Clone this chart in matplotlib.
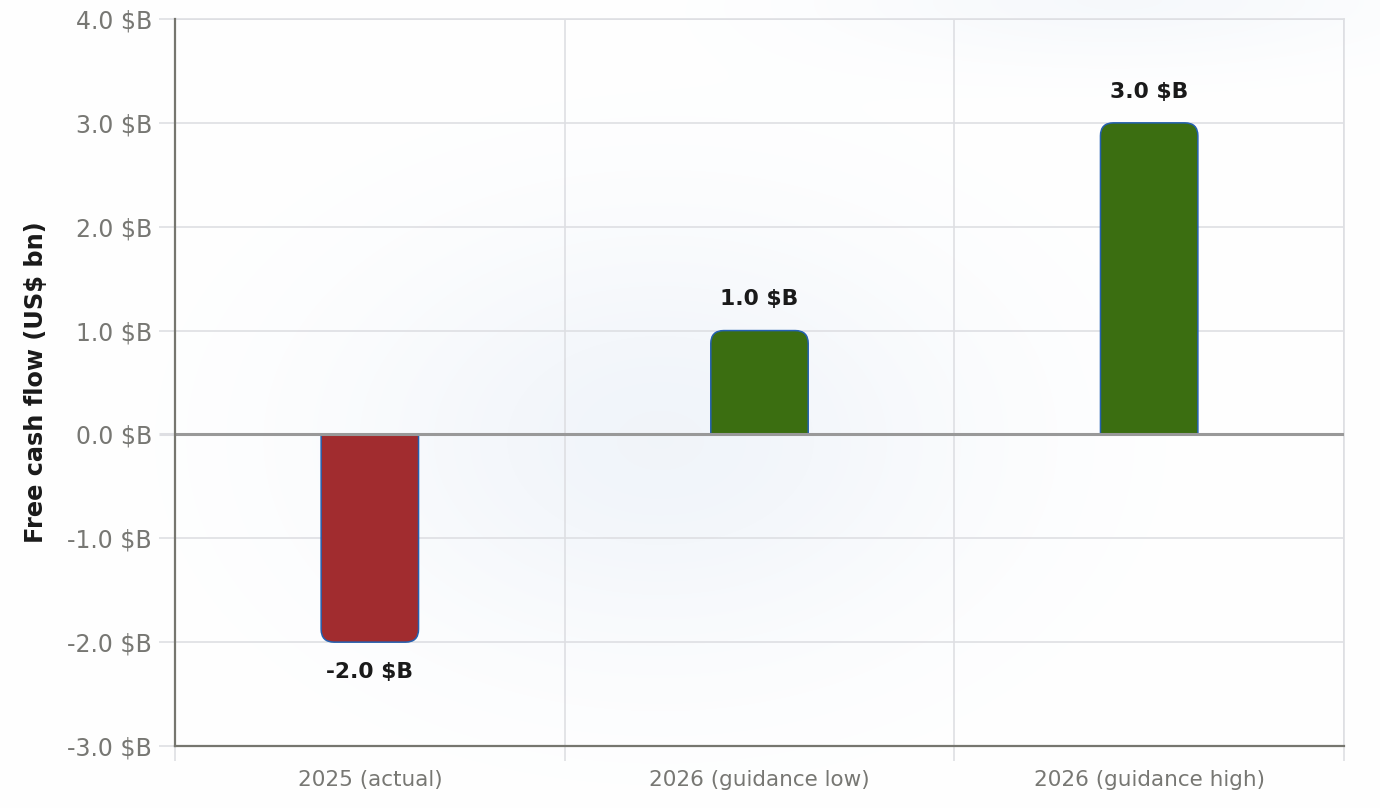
import numpy as np
import matplotlib

matplotlib.use("Agg")

import matplotlib.pyplot as plt
from matplotlib.path import Path
from matplotlib.patches import PathPatch
from matplotlib.ticker import FuncFormatter, MultipleLocator, FixedLocator

categories = ["2025 (actual)", "2026 (guidance low)", "2026 (guidance high)"]
fcf_bn = [-2.0, 1.0, 3.0]
y_ticks = [-3, -2, -1, 0, 1, 2, 3, 4]

NEG_COLOR = "#a12c2f"
POS_COLOR = "#3b6e11"
EDGE_COLOR = "#2460b0"
GRID_COLOR = "#dedfe3"
TICK_TEXT = "#777773"
SPINE_COLOR = "#76766f"

W, H, DPI = 1380, 808, 100
fig = plt.figure(figsize=(W / DPI, H / DPI), dpi=DPI)

# faint radial glows behind everything
bg = fig.add_axes([0, 0, 1, 1], zorder=0)
bg.set_axis_off()
yy, xx = np.mgrid[0:H, 0:W]
g1 = np.exp(-0.5 * (((xx - 660) / 220.0) ** 2 + ((yy - 440) / 150.0) ** 2))
g2 = np.exp(-0.5 * (((xx - 1120) / 200.0) ** 2 + ((yy - 0) / 45.0) ** 2))
glow = np.clip(g1 + 0.6 * g2, 0, 1)
base = np.array([1.0, 1.0, 1.0])
tint = np.array([0.945, 0.960, 0.980])
img = base[None, None, :] * (1 - glow[..., None]) + tint[None, None, :] * glow[..., None]
bg.imshow(img, extent=[0, 1, 0, 1], aspect="auto", origin="upper",
          interpolation="bilinear")
bg.set_xlim(0, 1)
bg.set_ylim(0, 1)

ax = fig.add_axes([175 / W, 1 - 746 / H, (1344 - 175) / W, (746 - 19) / H], zorder=1)
ax.patch.set_alpha(0)

x = np.arange(len(categories))
colors = [NEG_COLOR if v < 0 else POS_COLOR for v in fcf_bn]
bars = ax.bar(x, fcf_bn, width=0.25, color=colors)

ax.set_xlim(-0.5, len(categories) - 0.5)
ax.set_ylim(min(y_ticks), max(y_ticks))

# swap each bar for a shape rounded only at its outer end
ax_w_px = 1344 - 175
ax_h_px = 746 - 19
rad_px = 13
rx = rad_px * len(categories) / ax_w_px
ry = rad_px * (max(y_ticks) - min(y_ticks)) / ax_h_px
for b, c in zip(bars, colors):
    x0 = b.get_x()
    x1 = x0 + b.get_width()
    y1 = b.get_y() + b.get_height()
    s = 1 if y1 >= 0 else -1
    verts = [(x0, 0), (x0, y1 - s * ry), (x0, y1), (x0 + rx, y1),
             (x1 - rx, y1), (x1, y1), (x1, y1 - s * ry), (x1, 0), (x0, 0)]
    codes = [Path.MOVETO, Path.LINETO, Path.CURVE3, Path.CURVE3,
             Path.LINETO, Path.CURVE3, Path.CURVE3, Path.LINETO, Path.CLOSEPOLY]
    ax.add_patch(PathPatch(Path(verts, codes), facecolor=c, edgecolor=EDGE_COLOR,
                           linewidth=1.1, zorder=3))
    b.set_visible(False)

for xi, v in zip(x, fcf_bn):
    off = 0.3 if v >= 0 else -0.29
    ax.text(xi, v + off, f"{v:.1f} $B", ha="center", va="center",
            fontsize=15.7, fontweight="bold", color="#1a1a1a", zorder=4)

ax.axhline(0, color="#999999", linewidth=2.2, zorder=3.5)

ax.yaxis.set_major_locator(FixedLocator(y_ticks))
ax.yaxis.set_major_formatter(FuncFormatter(lambda v, p: f"{v:.1f} $B"))
ax.set_xticks(x)
ax.set_xticklabels(categories)
ax.xaxis.set_minor_locator(MultipleLocator(1, offset=0.5))

ax.grid(True, axis="y", which="major", color=GRID_COLOR, linewidth=1.2, zorder=1)
ax.grid(True, axis="x", which="minor", color=GRID_COLOR, linewidth=1.2, zorder=1)
ax.set_axisbelow(True)

ax.tick_params(axis="y", which="major", length=11.5, width=1.2, color=GRID_COLOR,
               labelsize=17, labelcolor=TICK_TEXT, pad=5)
ax.tick_params(axis="x", which="major", length=0, labelsize=15.5, labelcolor=TICK_TEXT, pad=17)
ax.tick_params(axis="x", which="minor", length=10.5, width=1.2, color=GRID_COLOR)
zero_idx = y_ticks.index(0)
ax.yaxis.get_major_ticks()[zero_idx].tick1line.set_color("#999999")
ax.yaxis.get_major_ticks()[zero_idx].tick1line.set_markeredgewidth(2.2)

for side in ("top", "right"):
    ax.spines[side].set_color(GRID_COLOR)
    ax.spines[side].set_linewidth(1.2)
for side in ("left", "bottom"):
    ax.spines[side].set_color(SPINE_COLOR)
    ax.spines[side].set_linewidth(1.6)
    ax.spines[side].set_zorder(4)

ax.set_ylabel("Free cash flow (US$ bn)", fontsize=17.3, fontweight="bold",
              color="#1a1a1a")
ax.yaxis.set_label_coords(-0.1086, 0.5)

fig.savefig("out.png", dpi=DPI)
